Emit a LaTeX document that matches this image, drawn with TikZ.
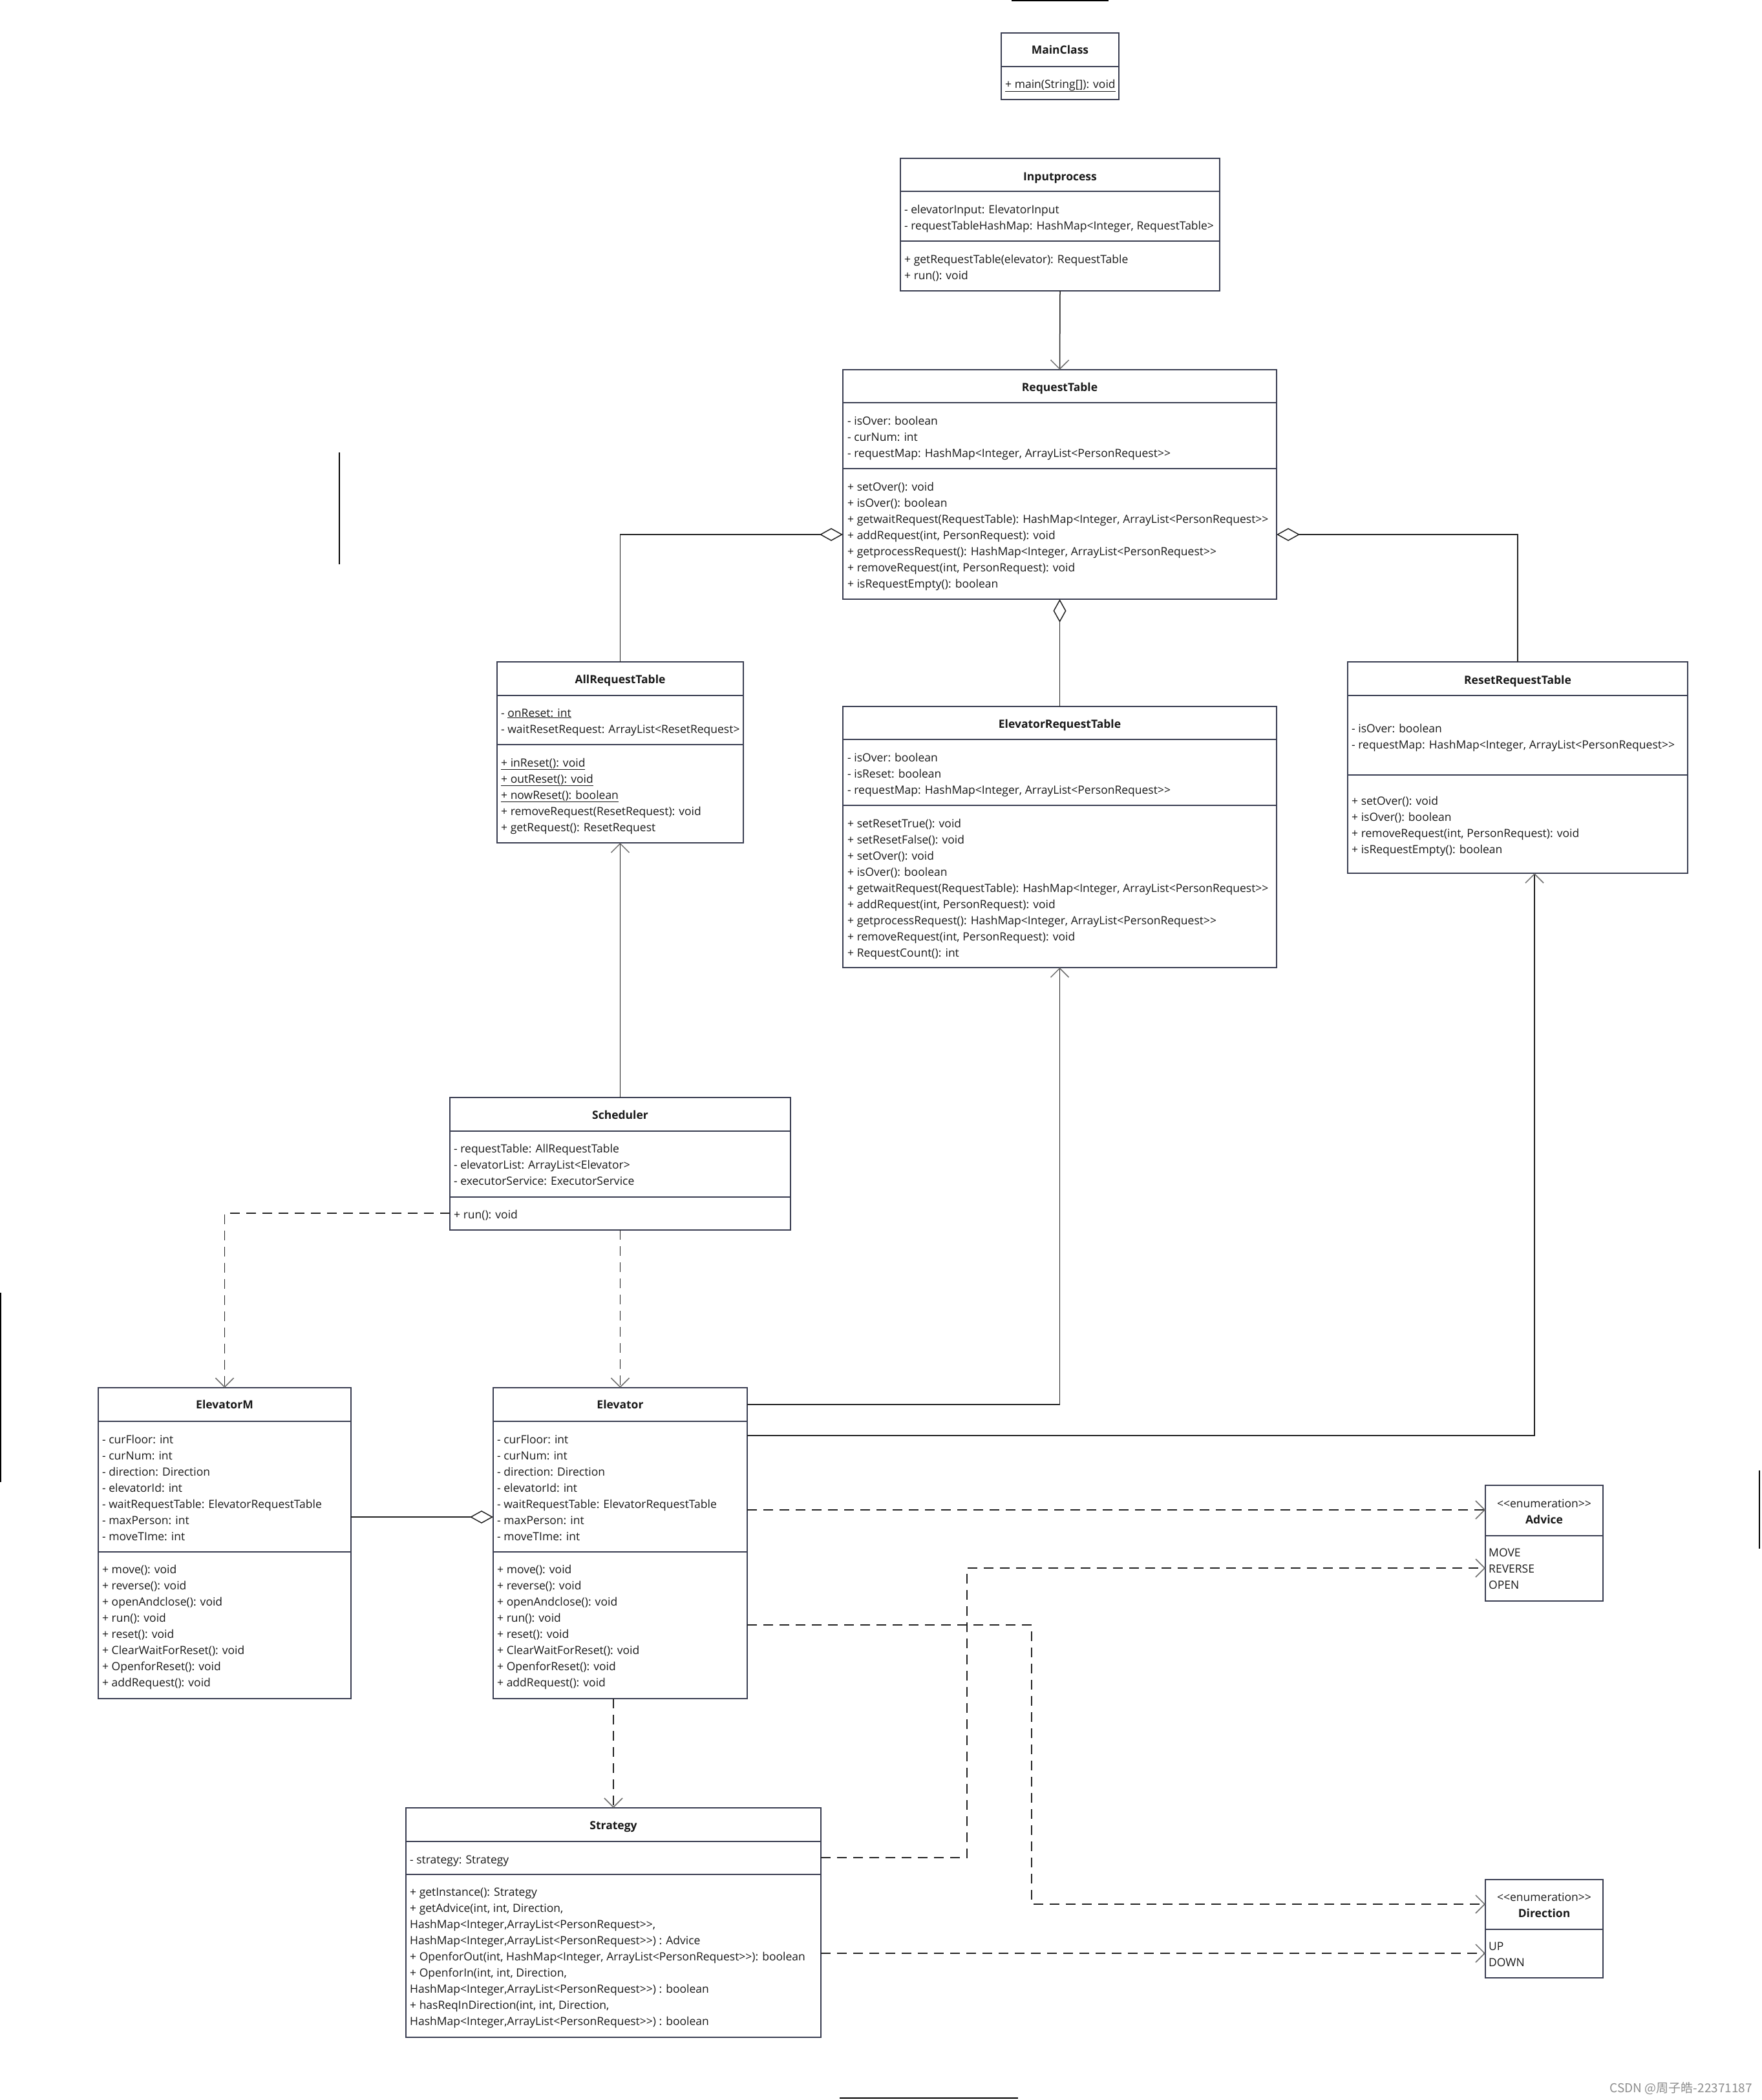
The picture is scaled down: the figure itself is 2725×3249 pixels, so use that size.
\documentclass[tikz,border=0pt]{standalone}
\usepackage{fontspec}
\setmainfont{Open Sans}
\newfontfamily\cjk{Noto Sans CJK SC}
\usetikzlibrary{arrows.meta}
\definecolor{bd}{RGB}{58,62,82}
\definecolor{lnc}{RGB}{35,35,35}
\definecolor{tipc}{RGB}{110,110,110}
\definecolor{tx}{RGB}{25,25,25}
\tikzset{
 box/.style={draw=bd, line width=2pt, fill=white, inner sep=0pt, outer sep=0pt, rectangle},
 dv/.style={draw=bd, line width=2pt},
 txt/.style={anchor=base west, inner sep=0pt, text=tx, font=\fontsize{17.5}{25}\selectfont},
 ttl/.style={anchor=base, inner sep=0pt, text=tx, font=\fontsize{17.5}{25}\selectfont\bfseries},
 conn/.style={draw=lnc, line width=1.5pt},
 openarr/.style={conn, -{Straight Barb[length=14pt, width=28pt, line width=1.5pt, color=tipc]}},
 deparr/.style={openarr, dash pattern=on 15pt off 10pt},
 aggr/.style={conn, -{Diamond[length=36pt, width=20pt, line width=1.5pt, open, fill=white]}},
 stray/.style={draw=black, line width=2pt},
}
\newcommand\ubox[5]{\node[box, anchor=north west, minimum width={#4-#2}, minimum height={#5-#3}] (#1) at (#2,#3) {};}
\newcommand\ulines[4]{%
  \foreach \ltxt [count=\i from 0] in {#4} {
    \node[txt] (#1-\i) at (#2, #3+6+25*\i) {\ltxt};
  }}
\newcommand\PR{ArrayList<PersonRequest>{}>}
\begin{document}
\begin{tikzpicture}[x=1pt,y=-1pt]
\fill[white] (0,0) rectangle (2725,3249);
\useasboundingbox (0,0) rectangle (2725,3249);

% stray lines
\draw[stray] (1565,1) -- (1715,1);
\draw[stray] (525,700) -- (525,873);
\draw[stray] (1,2000) -- (1,2293);
\draw[stray] (2722,2275) -- (2722,2396);
\draw[stray, line width=1.5pt] (1299,3246) -- (1575,3246);

% MainClass
\ubox{mc}{1549}{51}{1731}{154}
\draw[dv] (1549,103) -- (1731,103);
\node[ttl] (mc-t) at (1640,84) {MainClass};
\node[txt] (mc-m) at (1555,136) {\underline{+ main(String[]): void}};

% Inputprocess
\ubox{ip}{1393}{245}{1887}{450}
\draw[dv] (1393,296) -- (1887,296);
\draw[dv] (1393,373) -- (1887,373);
\node[ttl] (ip-t) at (1640,279) {Inputprocess};
\ulines{ipa}{1399}{324}{{- elevatorInput: ElevatorInput},{- requestTableHashMap: HashMap<Integer, RequestTable>}}
\ulines{ipm}{1399}{401}{{+ getRequestTable(elevator): RequestTable},{+ run(): void}}

% RequestTable
\ubox{rt}{1304}{572}{1975}{927}
\draw[dv] (1304,623) -- (1975,623);
\draw[dv] (1304,725) -- (1975,725);
\node[ttl] (rt-t) at (1639.5,605) {RequestTable};
\ulines{rta}{1311}{651}{{- isOver: boolean},{- curNum: int},{- requestMap: HashMap<Integer, \PR}}
\ulines{rtm}{1311}{753}{{+ setOver(): void},{+ isOver(): boolean},{+ getwaitRequest(RequestTable): HashMap<Integer, \PR},{+ addRequest(int, PersonRequest): void},{+ getprocessRequest(): HashMap<Integer, \PR},{+ removeRequest(int, PersonRequest): void},{+ isRequestEmpty(): boolean}}

% AllRequestTable
\ubox{art}{769}{1024}{1150}{1304}
\draw[dv] (769,1076) -- (1150,1076);
\draw[dv] (769,1152) -- (1150,1152);
\node[ttl] (art-t) at (959.5,1057) {AllRequestTable};
\ulines{arta}{775}{1103}{{- \underline{onReset: int}},{- waitResetRequest: ArrayList<ResetRequest>}}
\ulines{artm}{775}{1180}{{\underline{+ inReset(): void}},{\underline{+ outReset(): void}},{\underline{+ nowReset(): boolean}},{+ removeRequest(ResetRequest): void},{+ getRequest(): ResetRequest}}

% ElevatorRequestTable
\ubox{ert}{1304}{1093}{1975}{1497}
\draw[dv] (1304,1144) -- (1975,1144);
\draw[dv] (1304,1246) -- (1975,1246);
\node[ttl] (ert-t) at (1639.5,1126) {ElevatorRequestTable};
\ulines{erta}{1311}{1172}{{- isOver: boolean},{- isReset: boolean},{- requestMap: HashMap<Integer, \PR}}
\ulines{ertm}{1311}{1274}{{+ setResetTrue(): void},{+ setResetFalse(): void},{+ setOver(): void},{+ isOver(): boolean},{+ getwaitRequest(RequestTable): HashMap<Integer, \PR},{+ addRequest(int, PersonRequest): void},{+ getprocessRequest(): HashMap<Integer, \PR},{+ removeRequest(int, PersonRequest): void},{+ RequestCount(): int}}

% ResetRequestTable
\ubox{rrt}{2085}{1024}{2611}{1351}
\draw[dv] (2085,1076) -- (2611,1076);
\draw[dv] (2085,1199) -- (2611,1199);
\node[ttl] (rrt-t) at (2348,1058) {ResetRequestTable};
\ulines{rrta}{2091}{1127}{{- isOver: boolean},{- requestMap: HashMap<Integer, \PR}}
\ulines{rrtm}{2091}{1239}{{+ setOver(): void},{+ isOver(): boolean},{+ removeRequest(int, PersonRequest): void},{+ isRequestEmpty(): boolean}}

% Scheduler
\ubox{sch}{696}{1698}{1223}{1903}
\draw[dv] (696,1750) -- (1223,1750);
\draw[dv] (696,1852) -- (1223,1852);
\node[ttl] (sch-t) at (959.5,1731) {Scheduler};
\ulines{scha}{702}{1777}{{- requestTable: AllRequestTable},{- elevatorList: ArrayList<Elevator>},{- executorService: ExecutorService}}
\ulines{schm}{702}{1879}{{+ run(): void}}

% ElevatorM
\ubox{em}{152}{2147}{543}{2628}
\draw[dv] (152,2199) -- (543,2199);
\draw[dv] (152,2401) -- (543,2401);
\node[ttl] (em-t) at (347.5,2179) {ElevatorM};
\ulines{ema}{158}{2227}{{- curFloor: int},{- curNum: int},{- direction: Direction},{- elevatorId: int},{- waitRequestTable: ElevatorRequestTable},{- maxPerson: int},{- moveTIme: int}}
\ulines{emm}{158}{2428}{{+ move(): void},{+ reverse(): void},{+ openAndclose(): void},{+ run(): void},{+ reset(): void},{+ ClearWaitForReset(): void},{+ OpenforReset(): void},{+ addRequest(): void}}

% Elevator
\ubox{el}{763}{2147}{1156}{2628}
\draw[dv] (763,2199) -- (1156,2199);
\draw[dv] (763,2401) -- (1156,2401);
\node[ttl] (el-t) at (959.5,2179) {Elevator};
\ulines{ela}{769}{2227}{{- curFloor: int},{- curNum: int},{- direction: Direction},{- elevatorId: int},{- waitRequestTable: ElevatorRequestTable},{- maxPerson: int},{- moveTIme: int}}
\ulines{elm}{769}{2428}{{+ move(): void},{+ reverse(): void},{+ openAndclose(): void},{+ run(): void},{+ reset(): void},{+ ClearWaitForReset(): void},{+ OpenforReset(): void},{+ addRequest(): void}}

% Advice
\ubox{adv}{2298}{2298}{2480}{2477}
\draw[dv] (2298,2376) -- (2480,2376);
\node[txt, anchor=base] (adv-s) at (2389,2332) {<{}<enumeration>{}>};
\node[ttl] (adv-t) at (2389,2357) {Advice};
\ulines{advv}{2303}{2402}{{MOVE},{REVERSE},{OPEN}}

% Direction
\ubox{dir}{2298}{2908}{2480}{3060}
\draw[dv] (2298,2985) -- (2480,2985);
\node[txt, anchor=base] (dir-s) at (2389,2941) {<{}<enumeration>{}>};
\node[ttl] (dir-t) at (2389,2966) {Direction};
\ulines{dirv}{2303}{3011}{{UP},{DOWN}}

% Strategy
\ubox{st}{628}{2797}{1270}{3152}
\draw[dv] (628,2849) -- (1270,2849);
\draw[dv] (628,2900) -- (1270,2900);
\node[ttl] (st-t) at (949,2830) {Strategy};
\ulines{sta}{634}{2877}{{- strategy: Strategy}}
\ulines{stm}{634}{2927}{{+ getInstance(): Strategy},{+ getAdvice(int, int, Direction,},{HashMap<Integer,\PR,},{HashMap<Integer,\PR) : Advice},{+ OpenforOut(int, HashMap<Integer, \PR): boolean},{+ OpenforIn(int, int, Direction,},{HashMap<Integer,\PR) : boolean},{+ hasReqInDirection(int, int, Direction,},{HashMap<Integer,\PR) : boolean}}

% watermark
\node[anchor=base east, inner sep=0pt, text=black!45, font=\cjk\fontsize{19}{19}\selectfont] (wm) at (2711,3237) {CSDN @周子皓-22371187};

% helper coordinates
\coordinate (hAgg) at (0,827);
\coordinate (hSch) at (0,1877);
\coordinate (hEM) at (0,2347);
\coordinate (hE1) at (0,2173);
\coordinate (hE2) at (0,2221);
\coordinate (hE3) at (0,2336);
\coordinate (hE4) at (0,2514);
\coordinate (hS1) at (0,2874);
\coordinate (hS2) at (0,3022);
\coordinate (vR) at (2374,0);
\coordinate (k1) at (1596,2946);
\coordinate (k2) at (1496,2426);

% connectors
\draw[openarr] (ip.south) -- (rt.north);
\draw[aggr] (art.north) |- (rt.west |- hAgg);
\draw[aggr] (rrt.north) |- (rt.east |- hAgg);
\draw[aggr] (ert.north) -- (rt.south);
\draw[openarr] (sch.north) -- (art.south);
\draw[deparr] (sch.west |- hSch) -| (em.north);
\draw[deparr] (sch.south) -- (el.north);
\draw[aggr] (em.east |- hEM) -- (el.west |- hEM);
\draw[openarr] (el.east |- hE1) -| (ert.south);
\draw[openarr] (el.east |- hE2) -| (rrt.south -| vR);
\draw[deparr] (el.east |- hE3) -- (adv.west |- hE3);
\draw[deparr] (el.east |- hE4) -| (k1) -- (dir.west |- k1);
\draw[deparr] (st.east |- hS1) -| (k2) -- (adv.west |- k2);
\draw[deparr] (st.east |- hS2) -- (dir.west |- hS2);
\draw[deparr] (el.south -| st.north) -- (st.north);
\end{tikzpicture}
\end{document}
